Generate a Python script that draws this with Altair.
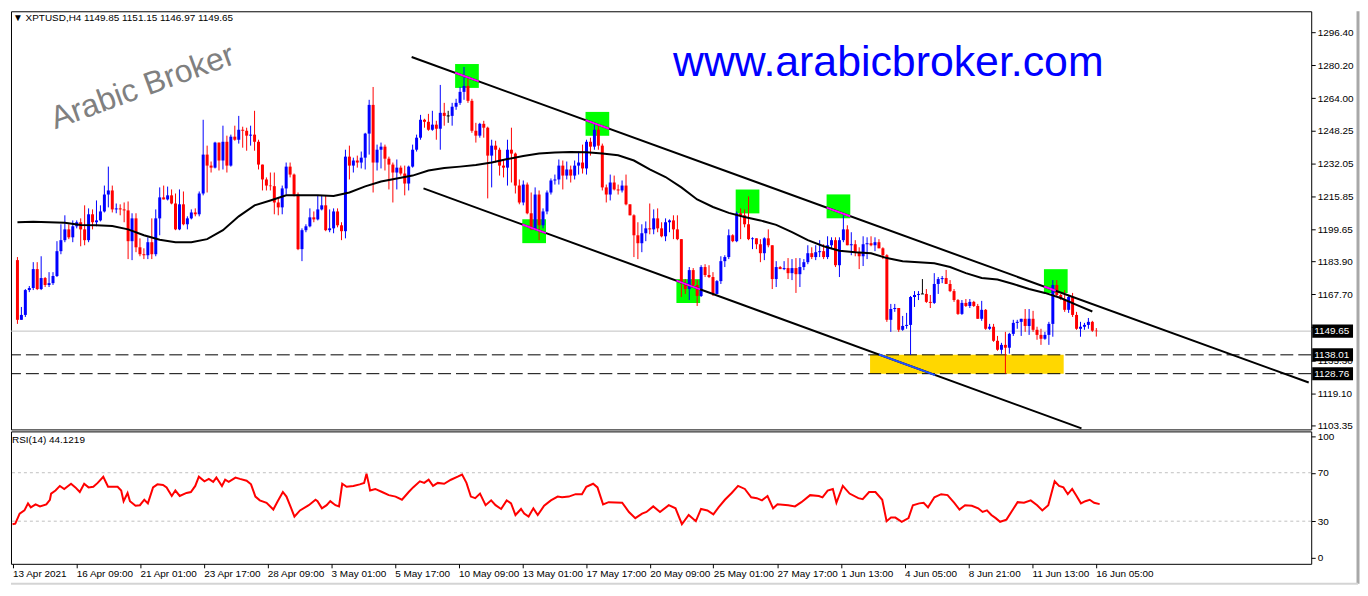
import json
import numpy as np
import pandas as pd
import altair as alt

# ---------------- data ----------------
TIME_LABELS = ["13 Apr 2021", "16 Apr 09:00", "21 Apr 01:00", "23 Apr 17:00", "28 Apr 09:00",
               "3 May 01:00", "5 May 17:00", "10 May 09:00", "13 May 01:00", "17 May 17:00",
               "20 May 09:00", "25 May 01:00", "27 May 17:00", "1 Jun 13:00", "4 Jun 05:00",
               "8 Jun 21:00", "11 Jun 13:00", "16 Jun 05:00"]
LABEL_BARS = list(range(0, 273, 16))

FIRST_OPEN = 1184.5
CLOSE = [
    1155.2, 1157.6, 1169.8, 1170.8, 1180.1, 1170.3, 1175.7, 1172.3, 1173.2, 1176.7,
    1188.9, 1194.3, 1199.6, 1195.7, 1201.1, 1203.1, 1199.6, 1194.3, 1207.0, 1203.1,
    1204.0, 1208.4, 1216.7, 1218.7, 1209.4, 1209.9, 1209.4, 1208.9, 1193.8, 1205.0,
    1190.8, 1187.4, 1186.9, 1193.3, 1187.4, 1205.0, 1215.3, 1214.3, 1216.3, 1212.3,
    1199.6, 1211.9, 1202.1, 1205.0, 1207.9, 1207.0, 1217.2, 1236.3, 1230.9, 1229.9,
    1242.2, 1233.4, 1242.6, 1230.9, 1245.1, 1243.6, 1248.5, 1248.0, 1245.6, 1246.1,
    1242.6, 1231.4, 1224.1, 1221.1, 1220.8, 1212.8, 1210.4, 1219.7, 1230.4, 1226.5,
    1216.7, 1189.9, 1199.2, 1201.1, 1205.5, 1204.5, 1209.4, 1211.4, 1199.2, 1200.1,
    1208.4, 1201.6, 1198.7, 1235.3, 1230.9, 1233.4, 1232.4, 1234.8, 1246.6, 1260.7,
    1232.4, 1238.7, 1240.2, 1234.3, 1231.4, 1227.5, 1229.9, 1227.0, 1222.1, 1230.4,
    1238.7, 1244.6, 1253.4, 1252.4, 1248.5, 1251.0, 1249.0, 1256.8, 1255.3, 1255.3,
    1259.8, 1261.7, 1267.1, 1270.0, 1262.7, 1248.0, 1245.6, 1251.4, 1249.5, 1235.8,
    1240.7, 1238.7, 1230.9, 1229.9, 1238.7, 1236.8, 1221.1, 1212.8, 1221.6, 1207.5,
    1199.6, 1216.7, 1201.6, 1208.4, 1217.7, 1223.6, 1224.1, 1230.9, 1226.0, 1229.0,
    1226.0, 1230.9, 1232.4, 1229.5, 1242.6, 1240.2, 1248.5, 1240.7, 1220.2, 1216.7,
    1222.6, 1219.2, 1218.7, 1221.1, 1211.9, 1206.5, 1196.7, 1192.8, 1197.7, 1200.1,
    1199.6, 1205.0, 1200.1, 1196.2, 1203.1, 1204.0, 1199.6, 1194.8, 1173.2, 1170.3,
    1179.6, 1172.3, 1166.9, 1181.1, 1177.2, 1176.2, 1167.9, 1174.2, 1184.0, 1186.0,
    1196.7, 1193.8, 1207.5, 1206.5, 1202.1, 1194.8, 1195.2, 1192.3, 1187.9, 1195.2,
    1191.8, 1175.2, 1181.1, 1180.1, 1180.6, 1178.1, 1180.6, 1177.6, 1181.1, 1183.5,
    1187.9, 1186.0, 1188.4, 1188.9, 1186.0, 1191.8, 1194.3, 1182.0, 1194.3, 1199.6,
    1191.8, 1192.3, 1188.4, 1186.4, 1192.3, 1192.8, 1191.8, 1193.3, 1190.3, 1186.9,
    1155.2, 1160.5, 1161.0, 1150.3, 1152.2, 1152.7, 1166.4, 1167.4, 1167.9, 1167.9,
    1164.0, 1163.5, 1172.8, 1175.2, 1175.7, 1172.8, 1169.3, 1164.9, 1158.1, 1163.5,
    1162.0, 1164.0, 1162.0, 1155.7, 1160.1, 1150.8, 1151.8, 1144.9, 1140.5, 1142.9,
    1141.5, 1148.3, 1153.7, 1154.2, 1155.7, 1152.2, 1155.7, 1150.3, 1147.8, 1145.9,
    1147.8, 1153.2, 1172.3, 1167.4, 1165.4, 1160.1, 1166.4, 1157.6, 1150.8, 1151.8,
    1152.7, 1154.2, 1149.85, 1149.65]
HIGH = [
    1186.0, 1161.5, 1170.3, 1171.8, 1183.5, 1183.5, 1186.4, 1176.2, 1178.6, 1178.6,
    1193.8, 1202.1, 1206.5, 1202.1, 1204.0, 1204.0, 1205.0, 1211.4, 1209.9, 1209.4,
    1213.8, 1211.4, 1221.1, 1230.4, 1221.1, 1212.3, 1211.9, 1212.8, 1213.3, 1207.5,
    1207.5, 1195.2, 1190.3, 1195.7, 1205.0, 1209.4, 1220.2, 1221.1, 1220.6, 1219.2,
    1217.2, 1219.2, 1218.2, 1206.0, 1209.4, 1209.9, 1218.2, 1253.4, 1240.7, 1232.9,
    1242.6, 1237.8, 1250.5, 1245.6, 1246.1, 1250.5, 1255.3, 1250.0, 1249.5, 1250.5,
    1257.8, 1243.6, 1230.9, 1225.1, 1227.5, 1227.5, 1215.3, 1221.1, 1232.4, 1232.4,
    1227.0, 1217.7, 1200.1, 1202.1, 1209.9, 1208.4, 1216.3, 1216.3, 1216.3, 1209.4,
    1209.9, 1209.9, 1203.1, 1238.7, 1240.7, 1234.8, 1235.8, 1237.8, 1247.0, 1263.2,
    1269.5, 1241.2, 1242.2, 1241.2, 1235.3, 1232.4, 1233.9, 1230.9, 1230.9, 1230.9,
    1241.2, 1246.1, 1255.8, 1253.9, 1256.3, 1257.8, 1252.9, 1270.5, 1261.7, 1257.8,
    1261.7, 1263.7, 1269.5, 1279.3, 1273.4, 1263.7, 1251.9, 1251.9, 1252.9, 1250.0,
    1243.6, 1243.1, 1239.7, 1233.9, 1243.6, 1249.5, 1237.3, 1224.1, 1223.6, 1222.6,
    1217.7, 1220.2, 1218.7, 1209.9, 1218.7, 1224.6, 1226.5, 1233.9, 1233.4, 1232.9,
    1230.9, 1233.4, 1237.8, 1241.2, 1243.6, 1244.6, 1251.0, 1251.0, 1241.7, 1221.6,
    1226.5, 1226.0, 1221.6, 1223.6, 1226.5, 1211.9, 1207.0, 1203.1, 1202.1, 1203.5,
    1212.3, 1209.4, 1209.9, 1203.1, 1205.0, 1204.5, 1206.5, 1206.5, 1194.8, 1175.2,
    1181.1, 1180.6, 1174.7, 1182.0, 1182.5, 1182.0, 1178.6, 1174.7, 1186.4, 1186.9,
    1199.6, 1197.2, 1208.4, 1209.9, 1209.4, 1215.8, 1195.7, 1195.2, 1194.8, 1195.7,
    1199.6, 1191.8, 1184.0, 1181.6, 1184.0, 1185.5, 1185.0, 1185.5, 1185.5, 1185.0,
    1191.8, 1190.8, 1191.8, 1194.3, 1192.3, 1196.2, 1195.7, 1195.7, 1195.7, 1206.5,
    1201.6, 1198.2, 1194.3, 1190.8, 1196.2, 1195.7, 1196.2, 1195.7, 1194.8, 1190.8,
    1187.4, 1163.0, 1163.0, 1161.0, 1157.1, 1158.6, 1166.9, 1169.3, 1169.3, 1175.2,
    1170.3, 1167.4, 1178.1, 1176.2, 1176.7, 1179.7, 1174.7, 1170.3, 1165.4, 1164.9,
    1165.4, 1165.4, 1164.5, 1163.0, 1164.5, 1160.5, 1153.2, 1153.2, 1147.3, 1143.9,
    1149.3, 1148.8, 1155.2, 1155.2, 1155.7, 1160.5, 1160.5, 1159.6, 1151.8, 1150.8,
    1149.3, 1154.2, 1174.7, 1174.7, 1167.9, 1169.8, 1167.4, 1168.4, 1159.1, 1154.2,
    1153.7, 1156.1, 1154.7, 1151.15]
LOW = [
    1153.2, 1155.2, 1156.6, 1168.8, 1169.8, 1169.8, 1169.8, 1171.3, 1171.3, 1172.3,
    1176.2, 1187.4, 1193.3, 1194.8, 1193.3, 1200.1, 1191.3, 1191.8, 1193.3, 1199.6,
    1201.1, 1203.5, 1207.9, 1210.4, 1207.9, 1207.5, 1206.5, 1203.1, 1185.0, 1184.5,
    1188.4, 1186.4, 1185.0, 1185.0, 1185.0, 1186.4, 1196.7, 1214.3, 1213.8, 1211.9,
    1199.2, 1199.2, 1201.6, 1199.6, 1204.5, 1206.0, 1206.0, 1216.3, 1217.7, 1227.5,
    1229.5, 1228.5, 1229.0, 1227.5, 1230.4, 1243.1, 1241.7, 1239.7, 1238.2, 1240.7,
    1238.2, 1229.0, 1218.7, 1218.7, 1218.7, 1207.0, 1206.5, 1207.0, 1216.7, 1225.1,
    1215.8, 1189.4, 1184.0, 1198.2, 1200.6, 1203.1, 1204.0, 1208.9, 1198.7, 1198.2,
    1197.7, 1200.6, 1194.3, 1195.2, 1224.1, 1227.5, 1229.9, 1229.5, 1229.0, 1236.3,
    1217.7, 1228.5, 1229.5, 1228.5, 1219.2, 1212.8, 1219.2, 1226.0, 1216.3, 1218.7,
    1229.9, 1237.8, 1243.6, 1249.5, 1248.0, 1248.0, 1243.6, 1238.7, 1250.5, 1251.9,
    1250.5, 1258.3, 1260.7, 1263.2, 1261.7, 1247.0, 1242.2, 1244.6, 1244.6, 1214.8,
    1220.2, 1232.4, 1226.0, 1225.1, 1221.1, 1222.6, 1217.2, 1211.9, 1211.4, 1207.0,
    1199.2, 1199.2, 1194.3, 1200.1, 1207.0, 1216.7, 1221.6, 1221.6, 1219.2, 1224.1,
    1222.6, 1224.1, 1226.5, 1227.0, 1226.5, 1235.8, 1238.7, 1238.7, 1218.7, 1212.8,
    1213.8, 1218.7, 1216.7, 1217.7, 1211.4, 1206.5, 1186.0, 1185.0, 1188.4, 1193.8,
    1197.2, 1197.2, 1198.2, 1195.7, 1193.8, 1198.2, 1194.8, 1194.3, 1166.4, 1167.9,
    1164.9, 1171.3, 1162.0, 1166.4, 1176.2, 1175.7, 1166.9, 1167.9, 1172.8, 1181.1,
    1185.0, 1193.3, 1193.3, 1194.8, 1200.6, 1194.3, 1189.9, 1189.9, 1183.5, 1184.5,
    1190.8, 1170.3, 1171.3, 1180.1, 1179.6, 1175.2, 1174.7, 1168.4, 1171.3, 1179.6,
    1182.5, 1185.0, 1184.5, 1186.0, 1185.0, 1185.0, 1189.9, 1181.1, 1176.2, 1193.3,
    1191.8, 1186.9, 1186.4, 1180.1, 1181.6, 1185.0, 1191.3, 1188.9, 1190.3, 1185.0,
    1154.2, 1149.3, 1159.1, 1149.3, 1149.8, 1150.8, 1138.0, 1161.5, 1164.9, 1167.9,
    1163.5, 1161.0, 1163.0, 1167.9, 1173.2, 1172.8, 1168.8, 1164.0, 1157.6, 1157.6,
    1161.5, 1161.0, 1161.5, 1155.7, 1154.7, 1150.3, 1150.3, 1144.4, 1140.0, 1138.5,
    1128.8, 1138.6, 1147.3, 1150.8, 1147.3, 1149.3, 1147.8, 1149.3, 1145.4, 1142.9,
    1145.4, 1142.9, 1146.9, 1166.4, 1164.9, 1159.1, 1158.6, 1156.6, 1150.3, 1146.9,
    1150.3, 1150.8, 1149.3, 1146.97]

MA_BAR = list(range(0, 273, 4))
MA_VAL = [
    1203.1, 1203.3, 1203.1, 1202.8, 1201.8, 1201.6, 1201.3, 1199.6, 1196.7, 1194.5,
    1193.3, 1193.3, 1194.8, 1199.2, 1206.0, 1211.4, 1213.8, 1216.3, 1216.3, 1216.3,
    1216.0, 1217.7, 1220.7, 1223.1, 1224.6, 1226.0, 1228.5, 1229.7, 1230.4, 1231.2,
    1232.4, 1234.1, 1235.6, 1236.8, 1237.3, 1237.6, 1237.5, 1236.8, 1236.0, 1233.4,
    1229.0, 1225.3, 1220.2, 1214.3, 1210.6, 1207.7, 1205.7, 1204.0, 1201.8, 1198.2,
    1194.3, 1191.3, 1189.1, 1188.4, 1187.9, 1185.5, 1184.0, 1183.5, 1183.0, 1181.1,
    1178.1, 1175.7, 1175.0, 1172.8, 1170.3, 1168.4, 1165.9, 1162.5, 1159.3]

RSI_BAR = [0, 0.7, 1.8, 3.0, 3.9, 4.6, 5.8, 6.9, 8.5, 9.4, 9.7, 10.8, 11.9, 13.0, 14.7, 15.8, 16.9, 18.0,
           19.1, 20.3, 21.4, 22.8, 24.0, 26.4, 27.3, 27.9, 28.9, 29.5, 30.9, 32.0, 33.1, 34.0, 35.3, 36.4,
           37.8, 38.7, 40.0, 40.9, 42.0, 43.7, 44.8, 45.9, 46.8, 48.2, 49.3, 50.4, 51.2, 52.6, 53.4, 54.3,
           56.0, 57.1, 58.8, 59.9, 61.0, 62.1, 63.8, 65.5, 66.6, 67.9, 68.8, 69.9, 70.8, 72.2, 74.4, 76.1,
           76.6, 77.7, 78.9, 79.8, 81.1, 82.0, 82.8, 83.9, 85.6, 87.2, 88.3, 88.9, 89.5, 89.8, 91.1, 92.8,
           94.5, 96.2, 97.8, 99.5, 100.6, 102.3, 103.4, 104.5, 105.6, 106.8, 108.4, 110.1, 111.8, 112.9,
           114.0, 115.1, 116.2, 117.4, 118.8, 120.2, 121.3, 122.7, 124.1, 125.2, 126.3, 127.7, 128.5,
           129.6, 130.8, 131.9, 133.5, 135.2, 136.9, 138.0, 139.7, 141.4, 143.0, 144.1, 145.8, 146.9,
           148.3, 149.7, 153.1, 154.8, 156.4, 158.1, 159.2, 160.9, 162.6, 164.8, 166.5, 168.1, 169.8,
           171.6, 172.9, 174.5, 176.0, 177.3, 178.9, 180.6, 182.2, 183.9, 185.5, 186.9, 188.2, 189.6,
           191.0, 192.1, 194.8, 196.5, 198.1, 200.3, 202.5, 203.4, 204.7, 206.0, 206.9, 208.5, 210.2,
           212.4, 213.5, 215.1, 216.7, 218.4, 219.5, 220.6, 221.7, 223.3, 225.0, 226.1, 227.7, 228.8,
           229.9, 231.5, 233.2, 234.8, 236.5, 237.8, 239.2, 240.9, 242.5, 243.6, 244.7, 245.8, 246.9,
           248.0, 249.6, 251.3, 252.4, 254.0, 255.7, 257.3, 258.6, 260.1, 261.7, 262.8, 263.9, 265.0,
           266.1, 267.2, 268.3, 269.4, 270.5, 271.6, 273.0]
RSI_VAL = [27.5, 28.0, 36.3, 38.9, 44.7, 41.4, 43.9, 42.2, 43.9, 47.7, 52.8, 55.3, 59.1, 56.6, 60.9, 57.9, 54.1, 60.9,
           57.9, 58.4, 61.6, 66.7, 58.4, 58.4, 55.3, 46.5, 53.3, 46.5, 42.7, 43.2, 47.7, 44.7, 57.9, 60.4,
           59.9, 57.9, 50.8, 55.3, 50.8, 53.3, 54.1, 59.1, 66.7, 62.9, 64.9, 62.4, 66.0, 59.1, 64.2, 62.4,
           66.0, 64.9, 63.4, 60.4, 50.3, 47.2, 45.2, 39.6, 46.5, 54.1, 50.3, 41.4, 33.8, 38.9, 43.2, 47.7,
           46.5, 40.6, 43.2, 46.5, 43.2, 42.2, 60.9, 58.4, 59.1, 60.4, 61.6, 69.2, 60.4, 55.3, 56.6, 54.1,
           51.5, 50.3, 47.7, 54.1, 57.9, 62.9, 61.6, 64.2, 59.1, 61.6, 60.9, 64.2, 66.7, 68.5,
           61.6, 50.3, 49.0, 52.8, 43.2, 47.2, 43.2, 40.1, 47.2, 44.7, 35.1, 40.1, 36.3,
           33.8, 40.6, 35.1, 42.7, 47.2, 50.3, 49.7, 50.3, 52.3, 52.3, 58.4, 60.9, 57.9,
           43.9, 45.7, 45.2, 37.6, 32.5, 36.3, 37.6, 42.2, 37.6, 43.2, 40.6, 27.5, 35.1,
           30.0, 40.1, 38.9, 35.6, 41.4, 47.7, 53.3, 59.1, 56.6, 49.7, 49.0, 47.2, 50.8,
           40.6, 43.9, 43.2, 42.2, 45.7, 51.5, 50.8, 49.7, 55.3, 56.6, 45.2, 59.1, 52.8,
           49.0, 48.2, 54.1, 54.1, 47.7, 30.0, 33.0, 33.0, 29.5, 32.5, 43.2, 44.7, 45.2,
           41.4, 49.7, 52.3, 51.5, 45.2, 39.6, 43.2, 42.7, 40.6, 37.6, 38.9, 35.1, 32.5,
           29.5, 31.3, 40.1, 45.7, 45.2, 47.2, 43.2, 38.9, 43.2, 62.9, 59.1, 57.9, 52.3,
           56.6, 50.8, 44.7, 46.5, 47.7, 45.2, 44.1]

PRICE_TICKS = [1296.40, 1280.20, 1264.00, 1248.25, 1232.05, 1215.85, 1199.65, 1183.90,
               1167.70, 1151.50, 1135.30, 1119.10, 1103.35]
RSI_TICKS = [0, 30, 70, 100]
RSI_LEVELS = [70, 30]
LAST_PRICE = 1149.65
SUPPORT_LEVELS = [1138.01, 1128.76]
ZONE_BARS = [215.75, 264.75]
ZONE_PRICES = [1128.76, 1138.01]
MARK_BARS = [113.75, 146.75, 130.75, 184.75, 169.75, 207.75, 262.75]
MARK_PRICES = [1274.9, 1251.4, 1198.7, 1213.3, 1169.3, 1210.9, 1174.2]
UPPER_BARS, UPPER_PRICES = [99.75, 326.75], [1284.2, 1124.4]
LOWER_BARS, LOWER_PRICES = [102.75, 269.25], [1219.7, 1101.9]
HEADER = "\u25BC  XPTUSD,H4  1149.85 1151.15 1146.97 1149.65"
RSI_HEADER = "RSI(14) 44.1219"

# ---------------- tables ----------------
n = len(CLOSE)
assert len(HIGH) == n and len(LOW) == n and len(RSI_BAR) == len(RSI_VAL) and len(MA_BAR) == len(MA_VAL)
opens = [FIRST_OPEN] + CLOSE[:-1]
c = pd.DataFrame({"bar": range(n), "open": opens, "close": CLOSE, "high": HIGH, "low": LOW})
c["high"] = c[["high", "open", "close"]].max(axis=1)
c["low"] = c[["low", "open", "close"]].min(axis=1)
c["dir"] = np.where(c["close"] > c["open"], "up", np.where(c["close"] < c["open"], "down", "doji"))
c["top"] = c[["open", "close"]].max(axis=1) + np.where(c["dir"] == "doji", 0.25, 0)
c["bot"] = c[["open", "close"]].min(axis=1) - np.where(c["dir"] == "doji", 0.25, 0)

ma = pd.DataFrame({"bar": MA_BAR, "ma": MA_VAL})
rsi = pd.DataFrame({"bar": RSI_BAR, "rsi": RSI_VAL})

HALF_B, HALF_P = 3.0, 5.86
marks = pd.DataFrame({"b1": [b - HALF_B for b in MARK_BARS], "b2": [b + HALF_B for b in MARK_BARS],
                      "p1": [p - HALF_P for p in MARK_PRICES], "p2": [p + HALF_P for p in MARK_PRICES]})
zone = pd.DataFrame({"b1": [ZONE_BARS[0]], "b2": [ZONE_BARS[1]], "p1": [ZONE_PRICES[0]], "p2": [ZONE_PRICES[1]]})
channel = pd.DataFrame({"bar": UPPER_BARS + LOWER_BARS, "price": UPPER_PRICES + LOWER_PRICES,
                        "line": ["up", "up", "low", "low"]})


def on_line(bars, prices, b):
    return prices[0] + (prices[1] - prices[0]) * (b - bars[0]) / (bars[1] - bars[0])


seg_rows = []
for i in [0, 1, 5]:
    b1, b2 = MARK_BARS[i] - HALF_B, MARK_BARS[i] + HALF_B
    seg_rows.append((b1, b2, on_line(UPPER_BARS, UPPER_PRICES, b1), on_line(UPPER_BARS, UPPER_PRICES, b2), "#FF00FF"))
b1, b2 = MARK_BARS[6] - HALF_B, MARK_BARS[6]
seg_rows.append((b1, b2, on_line(UPPER_BARS, UPPER_PRICES, b1), on_line(UPPER_BARS, UPPER_PRICES, b2), "#FF00FF"))
for i in [2, 4]:
    b1, b2 = MARK_BARS[i] - HALF_B, MARK_BARS[i] + HALF_B
    seg_rows.append((b1, b2, on_line(LOWER_BARS, LOWER_PRICES, b1), on_line(LOWER_BARS, LOWER_PRICES, b2), "#FF00FF"))
b1, b2 = 218.0, 232.25
seg_rows.append((b1, b2, on_line(LOWER_BARS, LOWER_PRICES, b1), on_line(LOWER_BARS, LOWER_PRICES, b2), "#2250FF"))
segs = pd.DataFrame(seg_rows, columns=["b1", "b2", "p1", "p2", "col"])

tags = pd.DataFrame({"price": [LAST_PRICE] + SUPPORT_LEVELS})
tags["hi"] = tags["price"] + 3.2
tags["lo"] = tags["price"] - 3.2

# ---------------- chart ----------------
FONT = "Liberation Sans"
W, H_MAIN, H_RSI = 1306, 420, 133
xscale = alt.Scale(domain=[-0.375, 326.125], nice=False, zero=False)
yscale = alt.Scale(domain=[1101.4, 1306.66], nice=False, zero=False)
rscale = alt.Scale(domain=[-5.18, 104.1], nice=False, zero=False)

yaxis = alt.Axis(orient="right", values=PRICE_TICKS, format=".2f", grid=False, domain=False,
                 tickSize=4, tickColor="black", labelColor="black", labelFont=FONT,
                 labelFontSize=10, labelPadding=2, title=None, labelOverlap=False)
raxis = alt.Axis(orient="right", values=RSI_TICKS, format="d", grid=False, domain=False,
                 tickSize=4, tickColor="black", labelColor="black", labelFont=FONT,
                 labelFontSize=10, labelPadding=2, title=None)
label_expr = "[" + ",".join(json.dumps(t) for t in TIME_LABELS) + "][round(datum.value / 16)]"
xaxis = alt.Axis(values=LABEL_BARS, labelExpr=label_expr, grid=False, domain=False, tickSize=4,
                 tickColor="black", labelColor="black", labelFont=FONT, labelFontSize=10,
                 labelAlign="left", labelPadding=1, labelFlush=False, labelOverlap=False, title=None)


def X(f):
    return alt.X(f"{f}:Q", scale=xscale, axis=None)


def Y(f):
    return alt.Y(f"{f}:Q", scale=yscale, axis=yaxis)


color = alt.Color("dir:N", scale=alt.Scale(domain=["up", "down", "doji"],
                                            range=["#0000FF", "#FF0000", "#000000"]), legend=None)

zone_l = alt.Chart(zone).mark_rect(color="#FFD700").encode(x=X("b1"), x2="b2", y=Y("p1"), y2="p2")
marks_l = alt.Chart(marks).mark_rect(color="#00FF00").encode(x=X("b1"), x2="b2", y=Y("p1"), y2="p2")
last_l = alt.Chart(pd.DataFrame({"price": [LAST_PRICE]})).mark_rule(color="#C0C0C0", strokeWidth=1).encode(y=Y("price"))
lev_l = alt.Chart(pd.DataFrame({"price": SUPPORT_LEVELS})).mark_rule(
    color="black", strokeWidth=1, strokeDash=[13, 5]).encode(y=Y("price"))
wick_l = alt.Chart(c).mark_rule(strokeWidth=1).encode(x=X("bar"), y=Y("low"), y2="high", color=color)
body_l = alt.Chart(c).mark_bar(size=3).encode(x=X("bar"), y=Y("bot"), y2="top", color=color)
ma_l = alt.Chart(ma).mark_line(color="black", strokeWidth=2).encode(x=X("bar"), y=Y("ma"))
chan_l = alt.Chart(channel).mark_line(color="black", strokeWidth=2, clip=True).encode(
    x=X("bar"), y=Y("price"), detail="line:N")
seg_l = alt.Chart(segs).mark_rule(strokeWidth=2).encode(
    x=X("b1"), x2="b2", y=Y("p1"), y2="p2", color=alt.Color("col:N", scale=None))
box_l = alt.Chart(tags).mark_rect(color="black").encode(
    x=alt.value(W + 1), x2=alt.value(W + 42), y=Y("lo"), y2="hi")
boxt_l = alt.Chart(tags).mark_text(color="white", align="left", baseline="middle", font=FONT,
                                   fontSize=10).encode(
    x=alt.value(W + 3), y=Y("price"), text=alt.Text("price:Q", format=".2f"))
head_l = alt.Chart(pd.DataFrame({"t": [HEADER]})).mark_text(
    align="left", baseline="middle", font=FONT, fontSize=10, color="black").encode(
    x=alt.value(2), y=alt.value(7), text="t:N")
wm_l = alt.Chart(pd.DataFrame({"t": ["Arabic Broker"]})).mark_text(
    align="center", baseline="middle", font=FONT, fontSize=32, color="#808080", angle=340).encode(
    x=alt.value(132), y=alt.value(76), text="t:N")
web_l = alt.Chart(pd.DataFrame({"t": ["www.arabicbroker.com"]})).mark_text(
    align="left", baseline="alphabetic", font=FONT, fontSize=43, color="#0000FF").encode(
    x=alt.value(665), y=alt.value(65), text="t:N")

main = alt.layer(zone_l, marks_l, last_l, lev_l, wick_l, body_l, ma_l, chan_l, seg_l,
                 box_l, boxt_l, head_l, wm_l, web_l).properties(width=W, height=H_MAIN)

rlev_l = alt.Chart(pd.DataFrame({"v": RSI_LEVELS})).mark_rule(
    color="#C0C0C0", strokeDash=[3, 3], strokeWidth=1).encode(y=alt.Y("v:Q", scale=rscale, axis=raxis))
rline_l = alt.Chart(rsi).mark_line(color="#FF0000", strokeWidth=2).encode(
    x=alt.X("bar:Q", scale=xscale, axis=xaxis), y=alt.Y("rsi:Q", scale=rscale, axis=raxis))
rhead_l = alt.Chart(pd.DataFrame({"t": [RSI_HEADER]})).mark_text(
    align="left", baseline="middle", font=FONT, fontSize=10, color="black").encode(
    x=alt.value(1), y=alt.value(9), text="t:N")
frame_v = alt.Chart(pd.DataFrame({"k": [0]})).mark_rule(color="#A8A8A8", strokeWidth=3).encode(
    x=alt.value(1353), y=alt.value(-422), y2=alt.value(153))
frame_h = alt.Chart(pd.DataFrame({"k": [0]})).mark_rule(color="#D4D4D4", strokeWidth=2).encode(
    x=alt.value(0), x2=alt.value(1353), y=alt.value(153))

rsi_panel = alt.layer(rlev_l, rline_l, rhead_l, frame_v, frame_h).properties(width=W, height=H_RSI)

chart = alt.vconcat(main, rsi_panel, spacing=2, bounds="flush").properties(
    padding=0, background="white").configure_view(stroke="black", strokeWidth=1)

chart.save("out.html", embed_options={"renderer": "svg", "actions": False})
